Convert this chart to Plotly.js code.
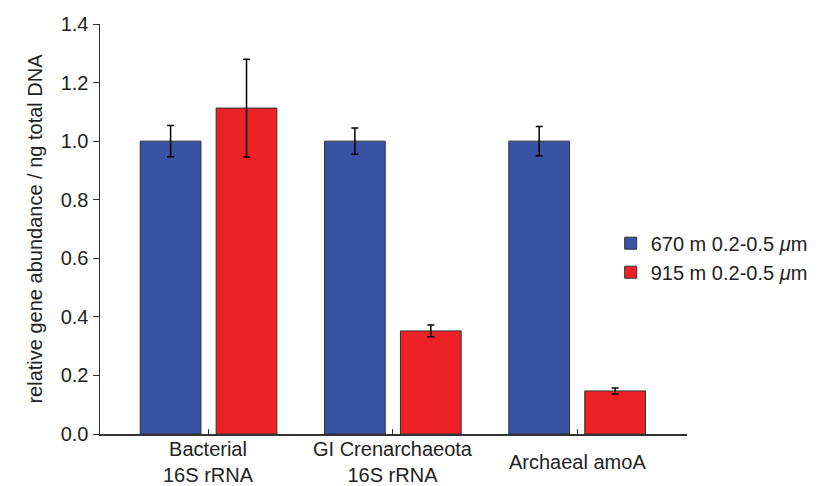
<!DOCTYPE html>
<html>
<head>
<meta charset="utf-8">
<script src="https://cdn.plot.ly/plotly-3.0.1.min.js"></script>
<style>html,body{margin:0;padding:0;background:#fff}#chart{width:819px;height:486px}</style>
</head>
<body>
<div id="chart"></div>
<script>
const categories = ["Bacterial<br>16S rRNA", "GI Crenarchaeota<br>16S rRNA", "Archaeal amoA"];
const seriesNames = ["670 m 0.2-0.5 <i>μ</i>m", "915 m 0.2-0.5 <i>μ</i>m"];
const values670 = [1.0, 1.0, 1.0];
const errors670 = [0.053, 0.045, 0.05];
const values915 = [1.113, 0.352, 0.147];
const errors915 = [0.167, 0.02, 0.01];
const yTicks = [0, 0.2, 0.4, 0.6, 0.8, 1.0, 1.2, 1.4];

const xIdx = categories.map((c, i) => i);
const FONT = "Liberation Sans, Arial, Helvetica, sans-serif";

function barTrace(name, vals, errs, color) {
  return {
    type: "bar", name: name, x: xIdx, y: vals,
    marker: {color: color, line: {color: "#333333", width: 1}},
    error_y: {type: "data", array: errs, visible: true, color: "#000000", thickness: 1.5, width: 3.5}
  };
}

const data = [
  barTrace(seriesNames[0], values670, errors670, "#3953A4"),
  barTrace(seriesNames[1], values915, errors915, "#EE2226")
];

const layout = {
  width: 819, height: 486,
  margin: {l: 100, r: 132, t: 24, b: 52, autoexpand: false},
  paper_bgcolor: "#ffffff", plot_bgcolor: "#ffffff",
  font: {family: FONT, size: 20, color: "#222222"},
  barmode: "group", bargap: 0.176, bargroupgap: 0.2,
  showlegend: true,
  legend: {x: 0.87, y: 0.43, xanchor: "left", yanchor: "middle", font: {family: FONT, size: 20, color: "#222"}, tracegroupgap: 0, bgcolor: "rgba(0,0,0,0)"},
  xaxis: {
    type: "linear", range: [-0.589, 2.596],
    tickvals: xIdx, ticktext: xIdx.map(() => ""), showticklabels: false,
    ticks: "inside", ticklen: 5, tickwidth: 1, tickcolor: "#333",
    showline: true, linecolor: "#333", linewidth: 1.5,
    showgrid: false, zeroline: false, fixedrange: true
  },
  yaxis: {
    range: [0, 1.4], tickvals: yTicks, tickformat: ".1f",
    ticks: "outside", ticklen: 6, tickwidth: 1, tickcolor: "#333",
    showline: true, linecolor: "#333", linewidth: 1.5,
    showgrid: false, zeroline: false,
    tickfont: {family: FONT, size: 20, color: "#222"},
    title: {text: "relative gene abundance / ng total DNA", font: {family: FONT, size: 20, color: "#222"}, standoff: 12}
  },
  annotations: categories.map((c, i) => ({
    x: i, xref: "x", y: 0, yref: "paper", yanchor: "middle", yshift: -28,
    text: c, showarrow: false, align: "center",
    font: {family: FONT, size: 20, color: "#222"}
  }))
};

Plotly.newPlot("chart", data, layout, {displayModeBar: false, staticPlot: true});
</script>
</body>
</html>
